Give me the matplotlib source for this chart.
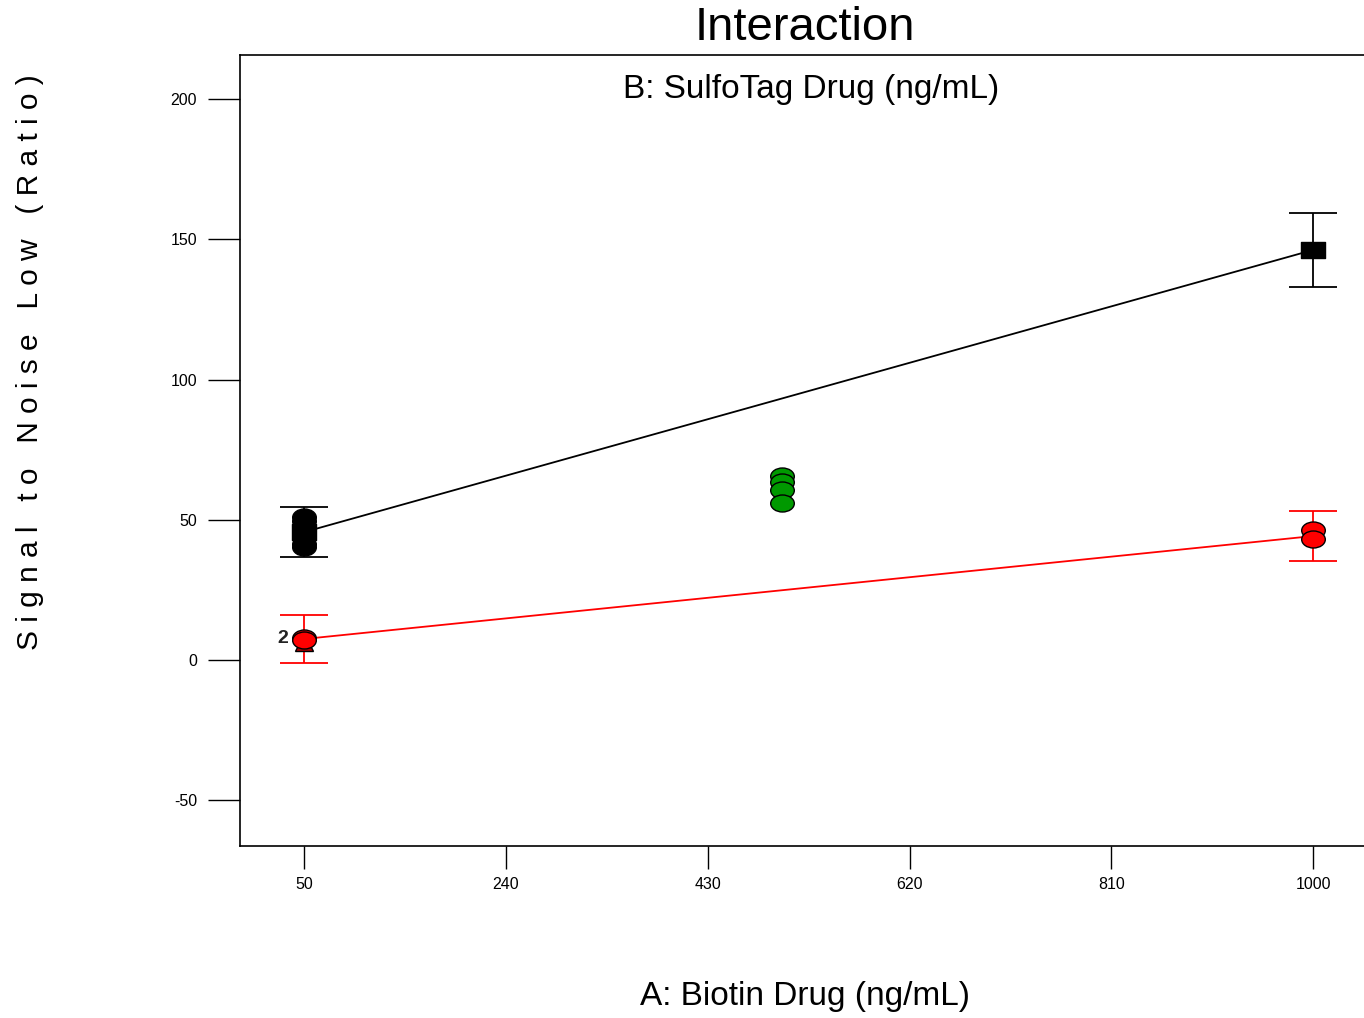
import matplotlib
matplotlib.use("Agg")
import matplotlib.pyplot as plt
from matplotlib.path import Path
from matplotlib.transforms import Affine2D

plt.rcParams['font.family'] = ['Liberation Sans', 'DejaVu Sans']
plt.rcParams['axes.unicode_minus'] = False

# factor levels
a_levels = [50, 1000]
# B high (black) : predicted means and LSD half-widths
b_high_mean = [45.6, 146.2]
b_high_err = [8.8, 13.2]
# B low (red)
b_low_mean = [7.5, 44.2]
b_low_err = [8.7, 8.8]
# design points
black_pts_x = [50, 50, 50, 50]
black_pts_y = [51.0, 49.5, 41.5, 40.3]
red_pts_x = [50, 50, 1000, 1000]
red_pts_y = [8.0, 7.2, 46.3, 43.1]
green_pts_x = [500, 500, 500, 500]
green_pts_y = [65.6, 63.3, 60.6, 56.0]

xticks = [50, 240, 430, 620, 810, 1000]
yticks = [-50, 0, 50, 100, 150, 200]

# wide ellipse / rectangle markers like the original
ell = Path.unit_circle().transformed(Affine2D().scale(1.0, 0.72))
rect = Path([(-1, -0.7), (1, -0.7), (1, 0.7), (-1, 0.7), (-1, -0.7)],
            [Path.MOVETO, Path.LINETO, Path.LINETO, Path.LINETO, Path.CLOSEPOLY])

fig = plt.figure(figsize=(13.64, 10.18), dpi=100)
ax = fig.add_axes([240 / 1364, 1 - 846 / 1018, 1190 / 1364, 791 / 1018])

# lines + error bars
ax.errorbar(a_levels, b_high_mean, yerr=b_high_err, color='black', lw=1.3,
            elinewidth=1.3, capsize=17, capthick=1.3, zorder=3)
ax.errorbar(a_levels, b_low_mean, yerr=b_low_err, color='red', lw=1.3,
            elinewidth=1.3, capsize=17, capthick=1.3, zorder=3)

# design points
ax.plot(green_pts_x, green_pts_y, ls='none', marker=ell, ms=17,
        mfc='#009900', mec='black', mew=1, zorder=4)
ax.plot(black_pts_x, black_pts_y, ls='none', marker=ell, ms=17,
        mfc='black', mec='black', mew=1, zorder=4)
ax.plot([50], [6.5], ls='none', marker='^', ms=13, mfc='#aa0000',
        mec='black', mew=1, zorder=4)
ax.plot(red_pts_x, red_pts_y, ls='none', marker=ell, ms=17,
        mfc='red', mec='black', mew=1, zorder=5)
ax.text(30, 7.5, '2', fontsize=14, fontweight='bold', color='#222222',
        ha='center', va='center', zorder=6)

# predicted mean squares
ax.plot(a_levels, b_high_mean, ls='none', marker=rect, ms=17,
        mfc='black', mec='black', zorder=6)

ax.set_xlim(-10.3, 1110)
ax.set_ylim(-66.3, 215.7)
ax.set_xticks(xticks)
ax.set_yticks(yticks)
ax.tick_params(axis='x', labelsize=11.5, length=16.5, width=1, direction='out', pad=6)
ax.tick_params(axis='y', labelsize=11.5, length=23, width=1, direction='out', pad=8)
ax.spines['right'].set_visible(False)
for s in ['left', 'top', 'bottom']:
    ax.spines[s].set_linewidth(1.2)

ax.text(0.48, 0.957, 'B: SulfoTag Drug (ng/mL)', transform=ax.transAxes,
        fontsize=24, ha='center', va='center')
fig.text(805 / 1364, 1 - 28 / 1018, 'Interaction', fontsize=34, ha='center', va='center')
fig.text(805 / 1364, 1 - 997 / 1018, 'A: Biotin Drug (ng/mL)', fontsize=24,
         ha='center', va='center')
fig.text(30 / 1364, 1 - 362 / 1018,
         'S i g n a l   t o   N o i s e   L o w   ( R a t i o )',
         fontsize=21.5, rotation=90, ha='center', va='center')

fig.savefig('out.png', dpi=100)
